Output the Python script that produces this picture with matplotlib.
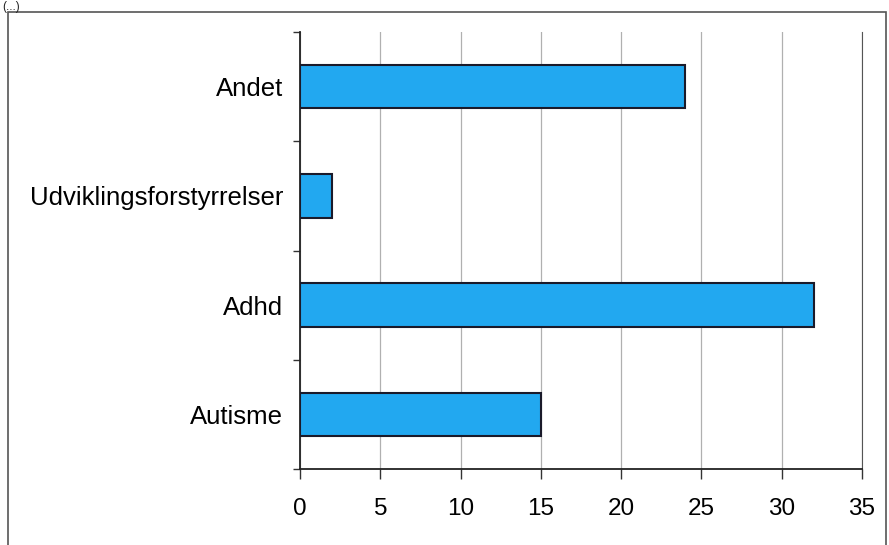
import matplotlib
matplotlib.use("Agg")
import matplotlib.pyplot as plt
from matplotlib.patches import Rectangle
import numpy as np

categories = ["Autisme", "Adhd", "Udviklingsforstyrrelser", "Andet"]
values = [15, 32, 2, 24]
xticks = [0, 5, 10, 15, 20, 25, 30, 35]

plt.rcParams['font.family'] = ['Liberation Sans', 'DejaVu Sans']

fig = plt.figure(figsize=(8.89, 5.45), dpi=100)
fig.patch.set_facecolor("white")

# outer chart border
fig.patches.append(Rectangle((8/889, -0.01), (886-8)/889, 1 - 12/545 + 0.01,
                             transform=fig.transFigure, fill=False,
                             edgecolor="#555555", linewidth=1.2))
fig.text(2/889, 0.999, "(...)", fontsize=8.5, va="top", ha="left", color="#222222")

ax = fig.add_axes([300/889, 1 - 469/545, (862-300)/889, (469-32)/545])
y = np.arange(len(categories))
ax.barh(y, values, height=0.4, color="#22A8F0", edgecolor="#1a1a2a", linewidth=1.5, zorder=3)

ax.set_xlim(0, 35)
ax.set_ylim(-0.5, len(categories) - 0.5)
ax.set_xticks(xticks)
ax.set_xticklabels([str(t) for t in xticks], fontsize=17.5)
ax.set_yticks(y)
ax.set_yticklabels(categories, fontsize=18.5)
ax.set_yticks(np.arange(-0.5, len(categories)), minor=True)
ax.tick_params(axis="y", which="major", length=0, pad=12)
ax.tick_params(axis="y", which="minor", length=5, width=1, color="#333333", direction="out")
ax.tick_params(axis="x", which="major", length=7, width=1, color="#333333", direction="out", pad=14)

ax.grid(axis="x", color="#b0b0b0", linewidth=0.9, zorder=0)
ax.spines["top"].set_visible(False)
ax.spines["right"].set_color("#555555")
ax.spines["left"].set_color("#222222")
ax.spines["bottom"].set_color("#222222")
ax.spines["left"].set_linewidth(1.3)
ax.spines["bottom"].set_linewidth(1.3)

fig.savefig("out.png", dpi=100)
